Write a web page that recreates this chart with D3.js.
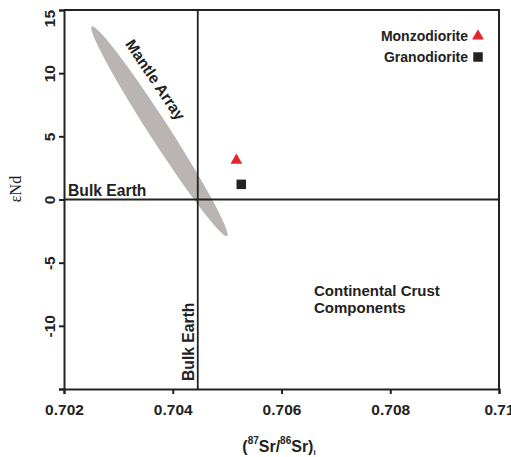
<!DOCTYPE html>
<html>
<head>
<meta charset="utf-8">
<script src="https://cdn.jsdelivr.net/npm/d3@7"></script>
<style>
  html, body { margin: 0; padding: 0; background: #fff; }
  svg text { font-family: "Liberation Sans", Arial, sans-serif; font-weight: bold; fill: #222; }
</style>
</head>
<body>
<svg id="chart" width="511" height="457"></svg>
<script>
// axis ticks
var srTicks = [0.702, 0.704, 0.706, 0.708, 0.710];
var srTickLabels = ["0.702", "0.704", "0.706", "0.708", "0.71"];
var ndTicks = [15, 10, 5, 0, -5, -10, -15];
var ndTickLabels = ["15", "10", "5", "0", "-5", "-10", ""];

// reference lines
var bulkEarthSr = 0.70446;
var bulkEarthNd = 0;

// mantle array ellipse, end points (Sr, eNd)
var mantleArray = [[0.70251, 13.7], [0.70500, -2.9]];

// samples
var sampleNames = ["Monzodiorite", "Granodiorite"];
var sampleSr = [0.70517, 0.70526];
var sampleNd = [3.1, 1.2];
var sampleColors = ["#e3262b", "#222222"];

var svg = d3.select("#chart");
var plotLeft = 64, plotRight = 499, plotTop = 10, plotBottom = 389;

var x = d3.scaleLinear().domain([0.702, 0.710]).range([plotLeft, plotRight]);
var y = d3.scaleLinear().domain([-15, 15]).range([plotBottom, plotTop]);

// mantle array
var p0 = [x(mantleArray[0][0]), y(mantleArray[0][1])];
var p1 = [x(mantleArray[1][0]), y(mantleArray[1][1])];
var cx = (p0[0] + p1[0]) / 2, cy = (p0[1] + p1[1]) / 2;
var len = Math.hypot(p1[0] - p0[0], p1[1] - p0[1]);
var ang = Math.atan2(p1[1] - p0[1], p1[0] - p0[0]) * 180 / Math.PI;

svg.append("ellipse")
  .attr("cx", cx).attr("cy", cy)
  .attr("rx", len / 2).attr("ry", 10)
  .attr("transform", "rotate(" + ang + "," + cx + "," + cy + ")")
  .attr("fill", "#bab5b2");

svg.append("text")
  .attr("transform", "translate(155,80) rotate(56)")
  .attr("text-anchor", "middle")
  .attr("dy", 5)
  .attr("font-size", 15.5)
  .text("Mantle Array");

// bulk earth lines
svg.append("line")
  .attr("x1", plotLeft).attr("x2", plotRight)
  .attr("y1", y(bulkEarthNd)).attr("y2", y(bulkEarthNd))
  .attr("stroke", "#222").attr("stroke-width", 1.8);

svg.append("line")
  .attr("x1", x(bulkEarthSr)).attr("x2", x(bulkEarthSr))
  .attr("y1", plotTop).attr("y2", plotBottom)
  .attr("stroke", "#222").attr("stroke-width", 1.8);

svg.append("text")
  .attr("x", 68).attr("y", 196)
  .attr("font-size", 15.7)
  .text("Bulk Earth");

svg.append("text")
  .attr("transform", "translate(194,381) rotate(-90)")
  .attr("font-size", 15.7)
  .text("Bulk Earth");

svg.append("text")
  .attr("x", 314).attr("y", 296)
  .attr("font-size", 15)
  .text("Continental Crust")
  .append("tspan")
  .attr("x", 314).attr("dy", 17)
  .text("Components");

// axes
var xAxis = d3.axisBottom(x)
  .tickValues(srTicks)
  .tickSize(5)
  .tickPadding(10)
  .tickFormat(function (d, i) { return srTickLabels[i]; });

var gx = svg.append("g")
  .attr("transform", "translate(0," + plotBottom + ")")
  .call(xAxis);

var yAxis = d3.axisLeft(y)
  .tickValues(ndTicks)
  .tickSize(5)
  .tickFormat(function (d, i) { return ndTickLabels[i]; });

var gy = svg.append("g")
  .attr("transform", "translate(" + plotLeft + ",0)")
  .call(yAxis);

[gx, gy].forEach(function (g) {
  g.select(".domain").attr("stroke", "#222").attr("stroke-width", 2);
  g.selectAll(".tick line").attr("stroke", "#222").attr("stroke-width", 2);
  g.selectAll(".tick text")
    .attr("fill", "#222")
    .attr("font-family", null)
    .attr("font-size", 15.5);
});

gy.selectAll(".tick text")
  .attr("x", null).attr("dy", null)
  .attr("text-anchor", "middle")
  .attr("transform", function (d) { return "translate(-9," + (d === 15 ? 8 : 0) + ") rotate(-90)"; });

// top and right frame
svg.append("path")
  .attr("d", "M" + plotLeft + "," + plotTop + "H" + plotRight + "V" + plotBottom)
  .attr("fill", "none").attr("stroke", "#222").attr("stroke-width", 2);

// axis titles
var xt = svg.append("text")
  .attr("x", 279).attr("y", 452)
  .attr("text-anchor", "middle")
  .attr("font-size", 16);
xt.append("tspan").text("(");
xt.append("tspan").attr("font-size", 10).attr("dy", -8).text("87");
xt.append("tspan").attr("dy", 8).text("Sr/");
xt.append("tspan").attr("font-size", 10).attr("dy", -8).text("86");
xt.append("tspan").attr("dy", 8).text("Sr)");
xt.append("tspan").attr("font-size", 8).attr("dy", 3).text("i");

svg.append("text")
  .attr("transform", "translate(21,189) rotate(-90)")
  .attr("text-anchor", "middle")
  .style("font-family", "'Liberation Serif', 'Times New Roman', serif")
  .style("font-weight", "normal")
  .attr("font-size", 16)
  .text("εNd");

// samples
var sym = [d3.symbolTriangle, d3.symbolSquare];
var symSize = [60, 90];

svg.selectAll("path.sample")
  .data(sampleNames)
  .join("path")
  .attr("class", "sample")
  .attr("transform", function (d, i) { return "translate(" + x(sampleSr[i]) + "," + y(sampleNd[i]) + ")"; })
  .attr("d", function (d, i) { return d3.symbol(sym[i], symSize[i])(); })
  .attr("fill", function (d, i) { return sampleColors[i]; });

// legend
var legend = svg.selectAll("g.legend")
  .data(sampleNames)
  .join("g")
  .attr("class", "legend")
  .attr("transform", function (d, i) { return "translate(478," + (36 + i * 21) + ")"; });

legend.append("text")
  .attr("x", -10).attr("y", 5)
  .attr("text-anchor", "end")
  .attr("font-size", 14)
  .text(function (d) { return d; });

legend.append("path")
  .attr("d", function (d, i) { return d3.symbol(sym[i], symSize[i])(); })
  .attr("fill", function (d, i) { return sampleColors[i]; });
</script>
</body>
</html>
